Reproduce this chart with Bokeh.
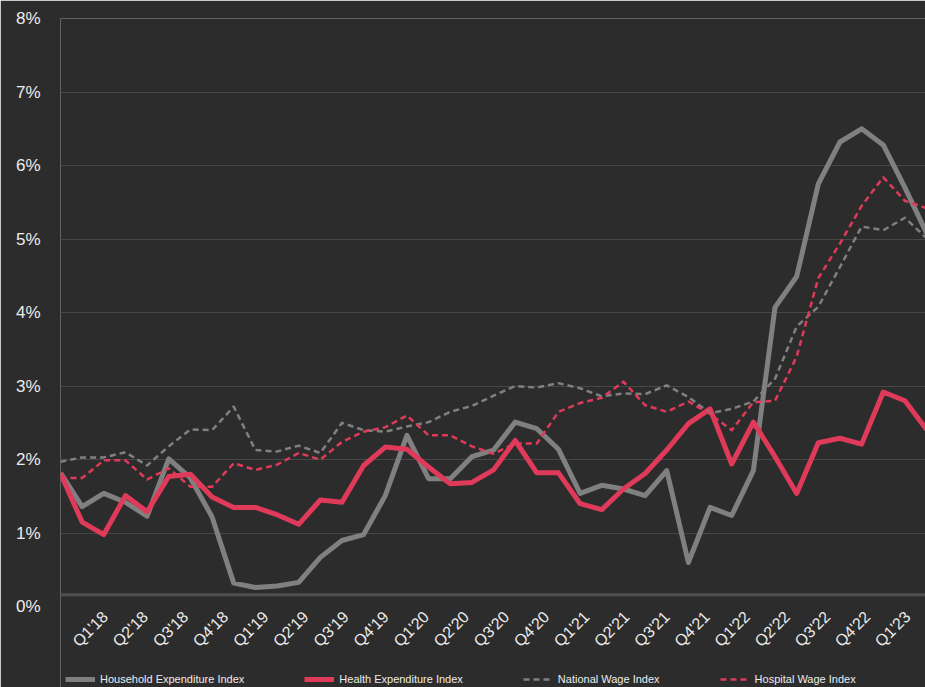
from math import pi
from bokeh.plotting import figure
from bokeh.models import (ColumnDataSource, Range1d, FixedTicker, PrintfTickFormatter,
                          Legend, LegendItem, Span)
from bokeh.core.properties import value
from bokeh.embed import file_html
from bokeh.resources import INLINE

# ---------------- data ----------------
period_index = list(range(41))
household = [1.82, 1.36, 1.54, 1.42, 1.23, 2.01, 1.75, 1.22, 0.32, 0.26, 0.28, 0.33, 0.67, 0.90,
             0.98, 1.51, 2.33, 1.74, 1.74, 2.04, 2.13, 2.51, 2.42, 2.14, 1.54, 1.65, 1.60, 1.51,
             1.85, 0.60, 1.35, 1.24, 1.85, 4.07, 4.49, 5.75, 6.32, 6.50, 6.28, 5.70, 5.08]
health = [1.81, 1.15, 0.98, 1.51, 1.29, 1.77, 1.80, 1.49, 1.35, 1.35, 1.25, 1.12, 1.45, 1.42,
          1.92, 2.17, 2.14, 1.90, 1.67, 1.69, 1.86, 2.26, 1.82, 1.82, 1.40, 1.32, 1.60, 1.81,
          2.13, 2.49, 2.69, 1.94, 2.51, 2.04, 1.54, 2.23, 2.29, 2.21, 2.92, 2.80, 2.41]
national_wage = [1.97, 2.03, 2.03, 2.10, 1.92, 2.18, 2.41, 2.40, 2.72, 2.13, 2.11, 2.19, 2.09,
                 2.50, 2.40, 2.38, 2.45, 2.51, 2.65, 2.73, 2.87, 3.00, 2.98, 3.04, 2.97, 2.86,
                 2.90, 2.89, 3.01, 2.85, 2.63, 2.69, 2.79, 3.10, 3.81, 4.08, 4.62, 5.17, 5.12,
                 5.29, 5.01]
hospital_wage = [1.75, 1.75, 1.99, 1.99, 1.73, 1.88, 1.63, 1.63, 1.95, 1.86, 1.93, 2.09, 2.00,
                 2.24, 2.38, 2.44, 2.60, 2.33, 2.33, 2.18, 2.08, 2.22, 2.22, 2.65, 2.77, 2.84,
                 3.06, 2.74, 2.65, 2.79, 2.62, 2.40, 2.78, 2.80, 3.40, 4.47, 4.94, 5.45, 5.84,
                 5.52, 5.42]
quarter_labels = ["Q1'18", "Q2'18", "Q3'18", "Q4'18", "Q1'19", "Q2'19", "Q3'19", "Q4'19",
                  "Q1'20", "Q2'20", "Q3'20", "Q4'20", "Q1'21", "Q2'21", "Q3'21", "Q4'21",
                  "Q1'22", "Q2'22", "Q3'22", "Q4'22", "Q1'23"]
y_ticks = [0, 1, 2, 3, 4, 5, 6, 7, 8]
grid_ticks = [1, 2, 3, 4, 5, 6, 7, 8]

# ---------------- styling ----------------
BG = "#2c2c2c"
GREY = "#808080"
RED = "#e03a5a"
TEXT = "#ececec"
FONT = "Liberation Sans"

src = ColumnDataSource(dict(x=period_index, household=household, health=health,
                            national=national_wage, hospital=hospital_wage))

p = figure(frame_width=865, frame_height=669, output_backend="svg", toolbar_location=None,
           x_range=Range1d(0, 39.95), y_range=Range1d(-1.1, 8.0), x_axis_location=None,
           background_fill_color=BG, border_fill_color=BG, outline_line_color=None,
           min_border_left=60, min_border_right=0, min_border_top=18, min_border_bottom=0)

r_house = p.line("x", "household", source=src, line_color=GREY, line_width=5, line_join="round")
r_health = p.line("x", "health", source=src, line_color=RED, line_width=5, line_join="round")
r_nat = p.line("x", "national", source=src, line_color=GREY, line_width=2.5,
               line_dash="6 4", line_join="round")
r_hosp = p.line("x", "hospital", source=src, line_color=RED, line_width=2.5,
                line_dash="6 4", line_join="round")

# y axis
p.yaxis.ticker = FixedTicker(ticks=y_ticks)
p.yaxis.formatter = PrintfTickFormatter(format="%d%%")
p.yaxis.axis_line_color = None
p.yaxis.major_tick_line_color = None
p.yaxis.minor_tick_line_color = None
p.yaxis.major_label_text_color = TEXT
p.yaxis.major_label_text_font = FONT
p.yaxis.major_label_text_font_size = "17px"
p.yaxis.major_label_standoff = 14

p.xgrid.grid_line_color = None
p.ygrid.ticker = FixedTicker(ticks=grid_ticks)
p.ygrid.grid_line_color = "#474747"
p.ygrid.grid_line_width = 1

baseline = Span(location=0.16, dimension="width", line_color="#4f4f4f", line_width=3)
p.add_layout(baseline)

# x category labels (rotated 45 degrees, below the baseline)
x_ticks = [round(2.06 + k * 1.853, 3) for k in range(len(quarter_labels))]
label_src = ColumnDataSource(dict(x=x_ticks, y=[-0.1] * len(quarter_labels), text=quarter_labels))
p.text(x="x", y="y", text="text", source=label_src, angle=pi / 4,
       text_align="right", text_baseline="middle", text_color=TEXT,
       text_font=value(FONT), text_font_size="16px")

legend = Legend(items=[
    LegendItem(label="Household Expenditure Index", renderers=[r_house]),
    LegendItem(label="Health Expenditure Index", renderers=[r_health]),
    LegendItem(label="National Wage Index", renderers=[r_nat]),
    LegendItem(label="Hospital Wage Index", renderers=[r_hosp]),
], orientation="horizontal", location=(5, 2))
legend.background_fill_alpha = 0
legend.border_line_color = None
legend.label_text_color = TEXT
legend.label_text_font = FONT
legend.label_text_font_size = "11px"
legend.glyph_width = 30
legend.glyph_height = 10
legend.spacing = 60
legend.padding = 2
legend.margin = 0
legend.label_standoff = 5
p.add_layout(legend)

open("out.html", "w").write(file_html(p, INLINE))
